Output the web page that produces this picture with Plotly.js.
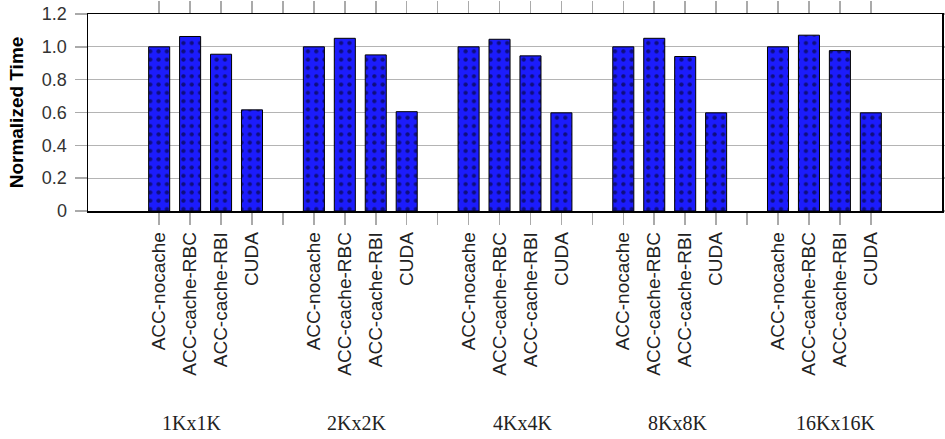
<!DOCTYPE html>
<html>
<head>
<meta charset="utf-8">
<script src="https://cdn.plot.ly/plotly-3.0.1.min.js"></script>
<style>
  html, body { margin: 0; padding: 0; background: #fff; }
  #chart { width: 945px; height: 439px; }
</style>
</head>
<body>
<div id="chart"></div>
<script>
const groups = ['1Kx1K', '2Kx2K', '4Kx4K', '8Kx8K', '16Kx16K'];
const methods = ['ACC-nocache', 'ACC-cache-RBC', 'ACC-cache-RBI', 'CUDA'];
const accNocache = [1.0, 1.0, 1.0, 1.0, 1.0];
const accCacheRBC = [1.063, 1.052, 1.046, 1.052, 1.071];
const accCacheRBI = [0.955, 0.951, 0.945, 0.941, 0.977];
const cuda = [0.616, 0.605, 0.598, 0.598, 0.598];
const yTickVals = [0, 0.2, 0.4, 0.6, 0.8, 1.0, 1.2];
const yTickText = ['0', '0.2', '0.4', '0.6', '0.8', '1.0', '1.2'];
const groupLabelPos = [1.04, 6.37, 11.74, 16.76, 21.87];

const series = [accNocache, accCacheRBC, accCacheRBI, cuda];
const slot = methods.length + 1;
const xs = [], ys = [];
const tickvals = [], ticktext = [];
groups.forEach((g, gi) => {
  methods.forEach((m, mi) => {
    xs.push(gi * slot + mi);
    ys.push(series[mi][gi]);
    tickvals.push(gi * slot + mi);
    ticktext.push(m);
  });
  if (gi < groups.length - 1) {
    tickvals.push(gi * slot + methods.length);
    ticktext.push('');
  }
});

const trace = {
  type: 'bar',
  x: xs,
  y: ys,
  width: 0.68,
  marker: {
    color: '#1c1cfc',
    line: { color: '#000', width: 1 },
    pattern: { shape: '.', fgcolor: '#000', bgcolor: '#1c1cfc', size: 8.3, solidity: 0.2, fillmode: 'overlay' }
  },
  hoverinfo: 'skip'
};

const annotations = groups.map((g, i) => ({
  x: groupLabelPos[i], xref: 'x',
  y: -1.076, yref: 'paper',
  text: g, showarrow: false,
  xanchor: 'center', yanchor: 'middle',
  font: { family: 'Liberation Serif, serif', size: 20, color: '#222' }
}));

const layout = {
  width: 945, height: 439,
  margin: { l: 88, r: 3, t: 14, b: 228 },
  paper_bgcolor: '#fff', plot_bgcolor: '#fff',
  showlegend: false,
  bargap: 0,
  xaxis: {
    range: [-2.3, 25.3],
    tickmode: 'array', tickvals: tickvals, ticktext: ticktext,
    tickangle: -90,
    ticks: 'outside', ticklen: 12, tickcolor: '#aaa', tickwidth: 1.5,
    mirror: 'ticks', showline: true, linecolor: '#000', linewidth: 1.5,
    showgrid: false, zeroline: false,
    tickfont: { family: 'Liberation Sans, Arial, sans-serif', size: 19, color: '#222' }
  },
  yaxis: {
    range: [0, 1.2],
    tickmode: 'array', tickvals: yTickVals, ticktext: yTickText,
    ticks: 'outside', ticklen: 12, tickcolor: '#aaa', tickwidth: 1.5,
    ticklabelstandoff: 4,
    mirror: 'ticks', showline: true, linecolor: '#000', linewidth: 1.5,
    showgrid: true, gridcolor: '#b4b4b4', gridwidth: 1,
    zeroline: false,
    tickfont: { family: 'Liberation Sans, Arial, sans-serif', size: 18, color: '#333' },
    title: { text: 'Normalized Time', standoff: 13,
      font: { family: 'Liberation Sans, Arial, sans-serif', size: 19, color: '#000', weight: 'bold' } }
  },
  annotations: annotations
};

Plotly.newPlot('chart', [trace], layout, { displayModeBar: false, staticPlot: true });
</script>
</body>
</html>
